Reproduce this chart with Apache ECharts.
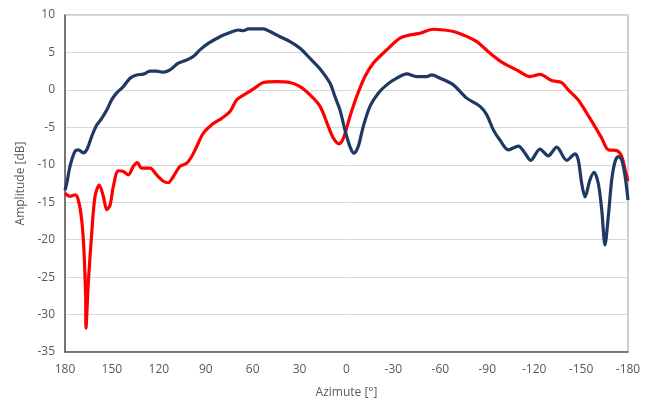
<!DOCTYPE html>
<html>
<head>
<meta charset="utf-8">
<script src="https://cdn.jsdelivr.net/npm/echarts@6/dist/echarts.min.js"></script>
<style>
html,body{margin:0;padding:0;background:#fff;}
#chart{width:647px;height:400px;}
</style>
</head>
<body>
<div id="chart"></div>
<script>
// Azimuth cut, navy trace
const azNavy = [180, 178.9, 176.8, 173.6, 171.5, 168.3, 166.1, 162.9, 159.7, 156.5, 153.3, 150.1, 146.9, 142.7, 138.4, 134.2, 129.9, 125.6, 121.4, 117.1, 112.9, 107.6, 102.2, 98.0, 93.7, 88.4, 80.9, 74.5, 69.2, 66.0, 62.8, 53.2, 48.9, 42.5, 36.1, 29.7, 23.3, 16.9, 10.5, 7.4, 4.2, 1.0, -2.2, -4.8, -7.5, -10.7, -15.0, -20.3, -25.7, -32.1, -38.5, -44.9, -51.3, -54.5, -59.8, -68.3, -76.9, -85.4, -89.6, -93.9, -98.1, -103.5, -109.9, -114.1, -117.8, -123.7, -129.0, -134.4, -140.8, -146.1, -148.2, -150.4, -152.5, -155.7, -158.3, -161.0, -163.2, -165.3, -167.4, -169.6, -171.7, -173.8, -176.0, -178.2, -180];
const ampNavy = [-13.4, -12.5, -10.2, -8.2, -8.0, -8.4, -8.0, -6.2, -4.7, -3.8, -2.7, -1.3, -0.4, 0.44, 1.56, 2.0, 2.1, 2.5, 2.5, 2.36, 2.67, 3.56, 4.0, 4.45, 5.34, 6.2, 7.1, 7.65, 8.0, 7.9, 8.14, 8.14, 7.8, 7.1, 6.45, 5.56, 4.2, 2.8, 0.89, -0.89, -2.67, -5.34, -7.57, -8.45, -7.57, -4.9, -2.2, -0.44, 0.67, 1.56, 2.14, 1.78, 1.78, 2.0, 1.56, 0.67, -1.1, -2.2, -3.3, -5.34, -6.7, -8.0, -7.5, -8.45, -9.4, -7.9, -8.8, -7.65, -9.4, -8.55, -9.35, -12.5, -14.3, -12.0, -11.0, -12.5, -16.0, -20.7, -16.9, -12.0, -9.6, -8.9, -9.35, -11.6, -14.7];

// Azimuth cut, red trace
const azRed = [180, 176.8, 173.6, 171.5, 169.3, 167.9, 166.8, 166.6, 165.1, 162.9, 160.8, 158.1, 155.5, 153.3, 151.2, 149.1, 145.9, 142.7, 139.5, 136.3, 133.8, 131.0, 125.6, 121.4, 117.1, 114.0, 110.8, 106.5, 102.2, 99.0, 95.8, 91.6, 85.2, 79.8, 74.5, 70.2, 63.8, 57.4, 53.2, 44.6, 36.1, 29.7, 23.3, 16.9, 11.6, 8.4, 4.8, 2.0, -2.2, -6.5, -11.8, -17.1, -25.7, -34.2, -40.6, -47.0, -55.5, -61.9, -68.3, -74.7, -83.3, -91.8, -100.3, -108.8, -117.3, -123.7, -131.2, -137.6, -141.8, -148.2, -153.6, -158.9, -163.2, -167.4, -172.8, -176.0, -178.2, -180];
const ampRed = [-13.8, -14.2, -14.0, -14.7, -17.4, -21.4, -27.6, -31.8, -25.8, -19.1, -14.2, -12.7, -14.2, -16.0, -15.4, -12.9, -10.8, -10.9, -11.35, -10.2, -9.7, -10.45, -10.45, -11.35, -12.2, -12.4, -11.6, -10.2, -9.8, -8.9, -7.57, -5.8, -4.5, -3.8, -2.9, -1.34, -0.44, 0.44, 0.98, 1.1, 0.98, 0.44, -0.67, -2.2, -4.9, -6.45, -7.2, -6.45, -3.56, -0.89, 1.78, 3.56, 5.34, 6.9, 7.34, 7.57, 8.1, 8.0, 7.8, 7.34, 6.45, 4.9, 3.56, 2.67, 1.78, 2.07, 1.24, 0.98, 0.0, -1.34, -3.1, -4.9, -6.45, -8.0, -8.1, -8.9, -10.7, -12.2];

const xTicks = [-180, 180, 30];   // min, max, step
const yTicks = [-35, 10, 5];

const pairs = (xs, ys) => xs.map((x, i) => [x, ys[i]]);

const textColor = '#595959';
const font = 'Open Sans, Liberation Sans, sans-serif';

const chart = echarts.init(document.getElementById('chart'), null, {renderer: 'canvas'});
chart.setOption({
  animation: false,
  backgroundColor: '#ffffff',
  grid: {
    left: 65, right: 19, top: 15, bottom: 48,
    outerBoundsMode: 'none',
    containLabel: false,
    show: true, borderColor: '#9a9a9a', borderWidth: 1
  },
  xAxis: {
    type: 'value',
    inverse: true,
    min: xTicks[0], max: xTicks[1], interval: xTicks[2],
    name: 'Azimute [°]',
    nameLocation: 'middle',
    nameGap: 35,
    nameTextStyle: {color: textColor, fontSize: 12, fontFamily: font},
    axisLine: {show: true, onZero: false, lineStyle: {color: '#595959', width: 1.5}},
    axisTick: {show: false},
    axisLabel: {color: textColor, fontSize: 12, fontFamily: font, margin: 12},
    splitLine: {show: false}
  },
  yAxis: {
    type: 'value',
    min: yTicks[0], max: yTicks[1], interval: yTicks[2],
    name: 'Amplitude [dB]',
    nameLocation: 'middle',
    nameGap: 37,
    nameTextStyle: {color: textColor, fontSize: 12, fontFamily: font},
    axisLine: {show: true, onZero: false, lineStyle: {color: '#595959', width: 1.5}},
    axisTick: {show: false},
    axisLabel: {color: textColor, fontSize: 12, fontFamily: font, margin: 10},
    splitLine: {show: true, lineStyle: {color: '#d9d9d9', width: 1}}
  },
  series: [
    {
      type: 'line',
      data: pairs(azNavy, ampNavy),
      showSymbol: false,
      smooth: 0.3,
      lineStyle: {color: '#203864', width: 3.2},
      z: 3
    },
    {
      type: 'line',
      data: pairs(azRed, ampRed),
      showSymbol: false,
      smooth: 0.3,
      lineStyle: {color: '#ff0000', width: 3.2},
      z: 2
    }
  ]
});
</script>
</body>
</html>
